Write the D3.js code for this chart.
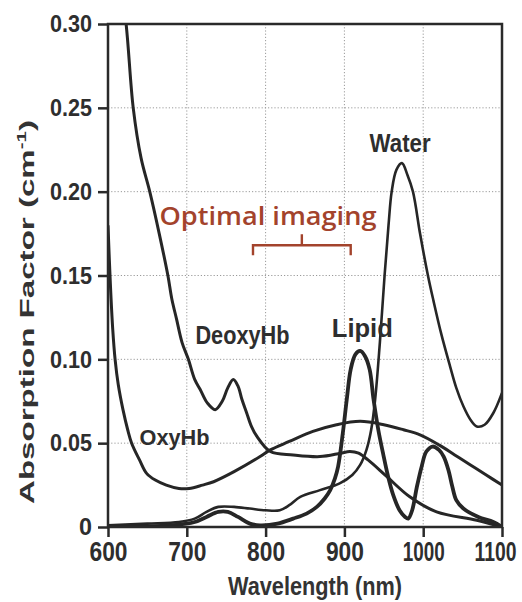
<!DOCTYPE html>
<html>
<head>
<meta charset="utf-8">
<script src="https://cdn.jsdelivr.net/npm/d3@7"></script>
<style>
  body { margin: 0; background: #fff; }
  svg { display: block; }
  .tick text { fill: #2e2e2e; }
</style>
</head>
<body>
<div id="chart"></div>
<script>
(function (d3) {
  'use strict';

  // [wavelength nm, absorption cm^-1]
  const oxyHb = [[600,0.180],[603,0.145],[606,0.118],[609,0.100],[613,0.085],[619,0.070],[625,0.058],
    [630,0.050],[640,0.040],[649,0.032],[660,0.028],[674,0.025],[690,0.023],[703,0.023],[720,0.025],
    [734,0.027],[760,0.033],[793,0.042],[806,0.046],[830,0.051],[860,0.057],[890,0.061],[920,0.063],
    [950,0.061],[975,0.058],[996,0.055],[1020,0.049],[1040,0.043],[1060,0.037],[1080,0.031],[1100,0.025]];

  const deoxyHb = [[612,0.340],[623,0.300],[632,0.250],[642,0.220],[653,0.200],[665,0.175],[676,0.150],
    [681,0.136],[687,0.124],[694,0.110],[702,0.100],[710,0.088],[717,0.082],[726,0.074],[736,0.070],
    [745,0.075],[752,0.083],[759,0.088],[765,0.084],[770,0.076],[776,0.068],[782,0.060],[789,0.054],
    [806,0.045],[835,0.043],[869,0.042],[895,0.044],[907,0.045],[918,0.044],[930,0.040],[954,0.030],
    [983,0.018],[1017,0.009],[1068,0.004],[1100,0.000]];

  const water = [[600,0.001],[650,0.002],[690,0.003],[710,0.005],[725,0.009],[740,0.012],[760,0.012],
    [780,0.011],[800,0.010],[818,0.010],[830,0.013],[844,0.018],[869,0.022],[894,0.026],[910,0.031],
    [920,0.037],[928,0.046],[934,0.058],[939,0.076],[945,0.110],[951,0.150],[956,0.180],[960,0.200],
    [966,0.213],[973,0.217],[980,0.210],[987,0.200],[996,0.175],[1006,0.150],[1013,0.135],[1023,0.115],
    [1034,0.096],[1042,0.083],[1051,0.072],[1060,0.064],[1068,0.060],[1078,0.061],[1089,0.068],[1100,0.080]];

  const lipid = [[600,0.000],[680,0.001],[710,0.003],[725,0.006],[740,0.009],[752,0.009],[765,0.006],
    [780,0.002],[793,0.001],[815,0.002],[835,0.005],[852,0.008],[865,0.012],[875,0.017],[882,0.022],
    [888,0.029],[892,0.036],[898,0.056],[903,0.076],[908,0.094],[914,0.103],[920,0.105],[926,0.102],
    [932,0.094],[937,0.076],[943,0.058],[949,0.044],[955,0.031],[962,0.019],[970,0.010],[977,0.006],
    [981,0.005],[986,0.010],[992,0.024],[998,0.036],[1004,0.045],[1012,0.048],[1020,0.046],[1026,0.042],
    [1032,0.034],[1037,0.024],[1042,0.016],[1051,0.011],[1070,0.006],[1089,0.003],[1100,0.000]];

  const xTicks = [600, 700, 800, 900, 1000, 1100];
  const yTicks = [0, 0.05, 0.10, 0.15, 0.20, 0.25, 0.30];
  const yTickLabels = ['0', '0.05', '0.10', '0.15', '0.20', '0.25', '0.30'];

  // curve labels: [text, wavelength, value] at the left end of the baseline
  const curveLabels = [
    ['Water', 932, 0.2237],
    ['DeoxyHb', 711, 0.109],
    ['OxyHb', 640, 0.049],
    ['Lipid', 884, 0.1134]
  ];
  const optimalRange = [784, 908];

  const W = 522, H = 602;
  const m = {top: 24, right: 20, bottom: 75, left: 108};
  const iw = W - m.left - m.right, ih = H - m.top - m.bottom;

  const svg = d3.select('#chart').append('svg').attr('width', W).attr('height', H);
  const g = svg.append('g').attr('transform', `translate(${m.left},${m.top})`);

  const x = d3.scaleLinear().domain([600, 1100]).range([0, iw]);
  const y = d3.scaleLinear().domain([0, 0.30]).range([ih, 0]);

  svg.append('defs').append('clipPath').attr('id', 'plot')
    .append('rect').attr('width', iw).attr('height', ih);

  // dotted grid
  g.append('g').selectAll('line').data(xTicks.slice(1, -1)).enter().append('line')
    .attr('x1', d => x(d)).attr('x2', d => x(d)).attr('y1', 0).attr('y2', ih)
    .attr('stroke', '#9a9a9a').attr('stroke-width', 1).attr('stroke-dasharray', '1.2,2');
  g.append('g').selectAll('line').data(yTicks.slice(1, -1)).enter().append('line')
    .attr('y1', d => y(d)).attr('y2', d => y(d)).attr('x1', 0).attr('x2', iw)
    .attr('stroke', '#9a9a9a').attr('stroke-width', 1).attr('stroke-dasharray', '1.2,2');

  // curves
  const line = d3.line().x(d => x(d[0])).y(d => y(d[1])).curve(d3.curveCatmullRom.alpha(0.5));
  const series = [
    {data: oxyHb, w: 3},
    {data: deoxyHb, w: 3},
    {data: water, w: 2.6},
    {data: lipid, w: 3.8}
  ];
  g.append('g').attr('clip-path', 'url(#plot)')
    .selectAll('path').data(series).enter().append('path')
    .attr('d', d => line(d.data))
    .attr('fill', 'none').attr('stroke', '#262626')
    .attr('stroke-width', d => d.w).attr('stroke-linejoin', 'round');

  // frame
  g.append('rect').attr('width', iw).attr('height', ih)
    .attr('fill', 'none').attr('stroke', '#2a2a2a').attr('stroke-width', 2.5);

  // axes
  const xAxis = g.append('g').attr('transform', `translate(0,${ih})`)
    .call(d3.axisBottom(x).tickValues(xTicks).tickFormat(d3.format('d')).tickSize(10).tickPadding(5).tickSizeOuter(0));
  const yAxis = g.append('g')
    .call(d3.axisLeft(y).tickValues(yTicks).tickFormat((d, i) => yTickLabels[i]).tickSize(10).tickPadding(6).tickSizeOuter(0));
  [xAxis, yAxis].forEach(a => {
    a.select('.domain').remove();
    a.selectAll('.tick line').attr('stroke', '#2a2a2a').attr('stroke-width', 2.5);
    a.selectAll('.tick text')
      .style('font-family', '"Liberation Sans", Arial, sans-serif')
      .style('font-weight', 'bold')
      .attr('lengthAdjust', 'spacingAndGlyphs');
  });
  xAxis.selectAll('.tick text').style('font-size', '27px')
    .attr('textLength', d => d >= 1000 ? 42 : 38);
  // last label sits against the right edge, as in the original
  xAxis.selectAll('.tick text').filter(d => d === 1100)
    .attr('text-anchor', 'end').attr('dx', 14);
  yAxis.selectAll('.tick text').style('font-size', '24px')
    .attr('textLength', d => d === 0 ? 13 : 42);

  // axis titles
  svg.append('text')
    .attr('x', 315).attr('y', 595).attr('text-anchor', 'middle')
    .attr('textLength', 174).attr('lengthAdjust', 'spacingAndGlyphs')
    .style('font-family', '"Liberation Sans", Arial, sans-serif')
    .style('font-weight', 'bold').style('font-size', '26px').attr('fill', '#333')
    .text('Wavelength (nm)');

  const yt = svg.append('text')
    .attr('transform', 'translate(34,312) rotate(-90)').attr('text-anchor', 'middle')
    .attr('textLength', 384).attr('lengthAdjust', 'spacingAndGlyphs')
    .style('font-family', '"Liberation Sans", Arial, sans-serif')
    .style('font-weight', 'bold').style('font-size', '21px').attr('fill', '#333');
  yt.append('tspan').text('Absorption Factor (cm');
  yt.append('tspan').attr('dy', -8).style('font-size', '13px').text('-1');
  yt.append('tspan').attr('dy', 8).text(')');

  // curve labels
  const labelFont = {Water: [25, 61], DeoxyHb: [25, 94], OxyHb: [22, 70], Lipid: [26, 61]};
  g.append('g').selectAll('text').data(curveLabels).enter().append('text')
    .attr('x', d => x(d[1])).attr('y', d => y(d[2]))
    .attr('textLength', d => labelFont[d[0]][1]).attr('lengthAdjust', 'spacingAndGlyphs')
    .style('font-family', '"Liberation Sans", Arial, sans-serif')
    .style('font-weight', 'bold').style('font-size', d => labelFont[d[0]][0] + 'px')
    .attr('fill', '#2e2e2e').text(d => d[0]);

  // optimal imaging window
  const brown = '#a3432c';
  const bx0 = x(optimalRange[0]), bx1 = x(optimalRange[1]), bm = (bx0 + bx1) / 2, by = y(0.168);
  g.append('path')
    .attr('d', `M${bx0},${by + 10}V${by}H${bx1}V${by + 10}M${bm},${by}V${by - 11}`)
    .attr('fill', 'none').attr('stroke', brown).attr('stroke-width', 2.4);
  g.append('text')
    .attr('x', x(803)).attr('y', y(0.180)).attr('text-anchor', 'middle')
    .attr('textLength', 217).attr('lengthAdjust', 'spacingAndGlyphs')
    .style('font-family', '"Open Sans", Lato, sans-serif').style('font-size', '25px')
    .style('font-weight', 600)
    .attr('fill', brown).text('Optimal imaging');

}(d3));
</script>
</body>
</html>
